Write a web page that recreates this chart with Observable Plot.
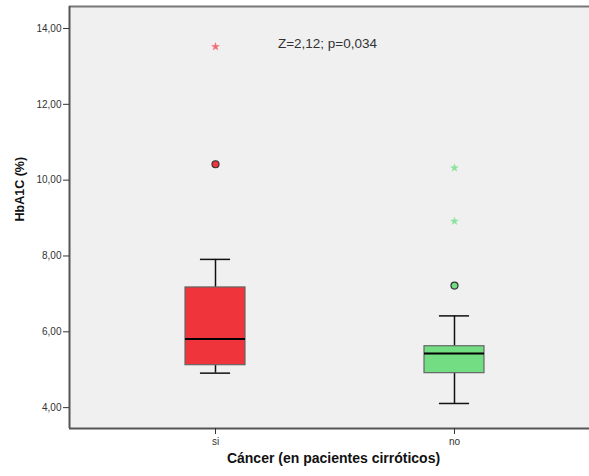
<!DOCTYPE html>
<html>
<head>
<meta charset="utf-8">
<script src="https://cdn.jsdelivr.net/npm/d3@7"></script>
<script src="https://cdn.jsdelivr.net/npm/@observablehq/plot@0.6"></script>
<style>
  html, body { margin: 0; padding: 0; background: #fff; overflow: hidden; }
</style>
</head>
<body>
<div id="chart"></div>
<script>
const groups = ["si", "no"];
const q1 = [5.12, 4.91];
const median = [5.81, 5.43];
const q3 = [7.17, 5.62];
const whiskerLow = [4.91, 4.11];
const whiskerHigh = [7.91, 6.42];
const outlierGroup = ["si", "no"];
const outlierValue = [10.42, 7.22];
const extremeGroup = ["si", "no", "no"];
const extremeValue = [13.52, 10.32, 8.92];
const yTicks = [4, 6, 8, 10, 12, 14];
const annotation = "Z=2,12; p=0,034";
const xLabel = "Cáncer (en pacientes cirróticos)";
const yLabel = "HbA1C (%)";

const boxColor = {si: "#f0343c", no: "#72dd83"};
const starColor = {si: "#f36f78", no: "#8ae39b"};

const xDomain = [-0.6109, 1.5649];
const yDomain = [3.45, 14.58];
const boxHalf = 0.1255;
const capHalf = 0.063;
const idx = g => groups.indexOf(g);

const boxes = groups.map((g, i) => ({
  g, i, q1: q1[i], med: median[i], q3: q3[i], lo: whiskerLow[i], hi: whiskerHigh[i]
}));
const outliers = outlierGroup.map((g, i) => ({g, i: idx(g), v: outlierValue[i]}));
const extremes = extremeGroup.map((g, i) => ({g, i: idx(g), v: extremeValue[i]}));

const fmt = d => d.toFixed(2).replace(".", ",");

const chart = Plot.plot({
  width: 589,
  height: 476,
  marginLeft: 69,
  marginRight: 0,
  marginTop: 6,
  marginBottom: 48,
  style: {fontFamily: "'Liberation Sans', Arial, sans-serif", background: "#ffffff", color: "#333"},
  x: {domain: xDomain},
  y: {domain: yDomain},
  marks: [
    Plot.frame({fill: "#f0f0f0", stroke: null}),
    Plot.ruleY([yDomain[1]], {stroke: "#777", strokeWidth: 2}),
    Plot.ruleY([yDomain[0]], {stroke: "#555", strokeWidth: 2}),
    Plot.ruleX([xDomain[0]], {stroke: "#555", strokeWidth: 2}),
    Plot.ruleX(boxes, {x: "i", y1: "lo", y2: "q1", stroke: "#111", strokeWidth: 1.5}),
    Plot.ruleX(boxes, {x: "i", y1: "q3", y2: "hi", stroke: "#111", strokeWidth: 1.5}),
    Plot.ruleY(boxes, {y: "lo", x1: d => d.i - capHalf, x2: d => d.i + capHalf, stroke: "#111", strokeWidth: 1.5}),
    Plot.ruleY(boxes, {y: "hi", x1: d => d.i - capHalf, x2: d => d.i + capHalf, stroke: "#111", strokeWidth: 1.5}),
    Plot.rect(boxes, {x1: d => d.i - boxHalf, x2: d => d.i + boxHalf, y1: "q1", y2: "q3", fill: d => boxColor[d.g], stroke: "#666", strokeWidth: 1.2}),
    Plot.ruleY(boxes, {y: "med", x1: d => d.i - boxHalf, x2: d => d.i + boxHalf, stroke: "#000", strokeWidth: 2}),
    Plot.dot(outliers, {x: "i", y: "v", r: 3.5, fill: d => boxColor[d.g], stroke: "#333", strokeWidth: 1.2}),
    Plot.dot(extremes, {x: "i", y: "v", r: 2.8, symbol: "star", fill: d => starColor[d.g], stroke: null}),
    Plot.text([annotation], {frameAnchor: "top-left", dx: 258, dy: 32, textAnchor: "middle", text: d => d, fontSize: 13.5, fill: "#333"}),
    Plot.text([yLabel], {frameAnchor: "left", dx: -50, dy: 4, rotate: -90, text: d => d, fontSize: 12.5, fontWeight: "bold", fill: "#111"}),
    Plot.text([xLabel], {frameAnchor: "bottom-left", dx: 264, dy: 34, textAnchor: "middle", text: d => d, fontSize: 14, fontWeight: "bold", fill: "#111"}),
    Plot.axisY({ticks: yTicks, tickFormat: fmt, tickSize: 6, tickPadding: 2, fontSize: 10, label: null, stroke: "#333", fill: "#333"}),
    Plot.axisX({ticks: [0, 1], tickFormat: i => groups[i], tickSize: 6, tickPadding: 3, fontSize: 10, label: null, stroke: "#333", fill: "#333"})
  ]
});
document.getElementById("chart").appendChild(chart);
</script>
</body>
</html>
